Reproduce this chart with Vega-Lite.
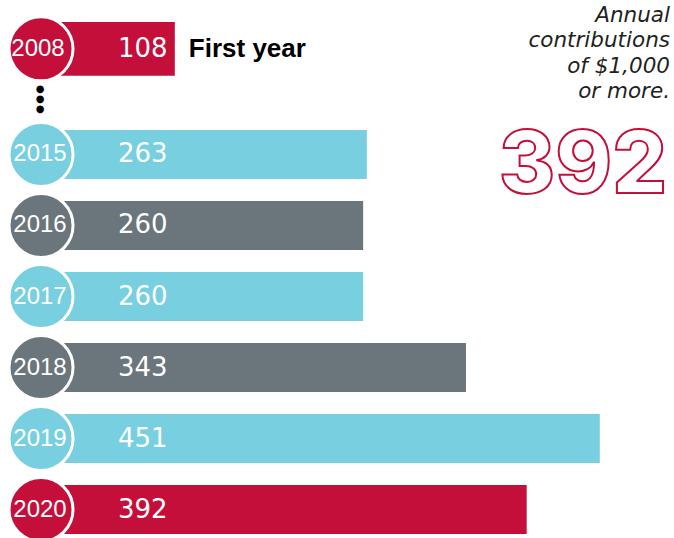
{
  "$schema": "https://vega.github.io/schema/vega-lite/v6.json",
  "padding": 0,
  "spacing": 0,
  "bounds": "flush",
  "background": "white",
  "config": {"view": {"stroke": null}},
  "datasets": {
    "rows": [
      {"year": "2008", "value": 108},
      {"year": "2015", "value": 263},
      {"year": "2016", "value": 260},
      {"year": "2017", "value": 260},
      {"year": "2018", "value": 343},
      {"year": "2019", "value": 451},
      {"year": "2020", "value": 392}
    ]
  },
  "vconcat": [
    {
      "width": 674,
      "height": 118,
      "data": {"name": "rows"},
      "transform": [{"filter": "datum.year == '2008'"}],
      "encoding": {
        "y": {"field": "year", "type": "nominal", "axis": null,
              "scale": {"domain": ["2008"], "paddingInner": 0, "paddingOuter": 0.6, "align": 0.342}}
      },
      "layer": [
        {
          "mark": {"type": "bar"},
          "encoding": {
            "x": {"field": "value", "type": "quantitative", "axis": null,
                  "scale": {"domain": [-33.1, 510.9], "nice": false, "zero": false}},
            "color": {"field": "year", "type": "nominal", "legend": null,
                      "scale": {"domain": ["2008","2015","2016","2017","2018","2019","2020"],
                                "range": ["#C40F3A","#78CFDF","#6A757C","#78CFDF","#6A757C","#78CFDF","#C40F3A"]}}
          }
        },
        {
          "mark": {"type": "circle", "size": 4100, "opacity": 1, "stroke": "white", "strokeWidth": 3},
          "encoding": {
            "x": {"datum": 0, "type": "quantitative"},
            "color": {"field": "year", "type": "nominal", "legend": null}
          }
        },
        {
          "mark": {"type": "text", "align": "center", "baseline": "middle", "dx": -3, "font": "Liberation Sans", "fontSize": 24, "fill": "white"},
          "encoding": {
            "x": {"datum": 0, "type": "quantitative"},
            "text": {"field": "year"}
          }
        },
        {
          "mark": {"type": "text", "align": "left", "baseline": "middle", "dx": 77, "font": "DejaVu Sans", "fontSize": 26, "fill": "white"},
          "encoding": {
            "x": {"datum": 0, "type": "quantitative"},
            "text": {"field": "value"}
          }
        },
        {
          "mark": {"type": "text", "align": "left", "baseline": "middle", "dx": 14, "font": "Liberation Sans", "fontWeight": "bold", "fontSize": 26, "fill": "black", "text": "First year"},
          "encoding": {
            "x": {"field": "value", "type": "quantitative"}
          }
        },
        {
          "mark": {"type": "text", "align": "center", "baseline": "middle", "dy": 40.5, "dx": -1, "font": "DejaVu Sans", "fontSize": 10, "lineHeight": 9.7, "fill": "black", "text": ["●", "●", "●"]},
          "encoding": {
            "x": {"datum": 0, "type": "quantitative"}
          }
        },
        {
          "mark": {"type": "text", "align": "right", "baseline": "alphabetic", "dx": -4, "dy": -26.8, "font": "DejaVu Sans", "fontStyle": "italic", "fontWeight": 300, "fontSize": 21.5, "lineHeight": 25.4, "fill": "#231F20",
                   "text": ["Annual", "contributions", "of $1,000", "or more."]},
          "encoding": {
            "x": {"value": "width"}
          }
        }
      ]
    },
    {
      "width": 674,
      "height": 420,
      "data": {"name": "rows"},
      "transform": [{"filter": "datum.year != '2008'"}],
      "encoding": {
        "y": {"field": "year", "type": "nominal", "axis": null,
              "scale": {"domain": ["2015","2016","2017","2018","2019","2020"], "paddingInner": 0.31, "paddingOuter": 0.1127, "align": 0.75}}
      },
      "layer": [
        {
          "mark": {"type": "bar"},
          "encoding": {
            "x": {"field": "value", "type": "quantitative", "axis": null,
                  "scale": {"domain": [-33.1, 510.9], "nice": false, "zero": false}},
            "color": {"field": "year", "type": "nominal", "legend": null}
          }
        },
        {
          "mark": {"type": "circle", "size": 4100, "opacity": 1, "stroke": "white", "strokeWidth": 3, "clip": true},
          "encoding": {
            "x": {"datum": 0, "type": "quantitative"},
            "color": {"field": "year", "type": "nominal", "legend": null}
          }
        },
        {
          "mark": {"type": "text", "align": "center", "baseline": "middle", "dx": -1, "font": "Liberation Sans", "fontSize": 24, "fill": "white"},
          "encoding": {
            "x": {"datum": 0, "type": "quantitative"},
            "text": {"field": "year"}
          }
        },
        {
          "mark": {"type": "text", "align": "left", "baseline": "middle", "dx": 77, "font": "DejaVu Sans", "fontSize": 26, "fill": "white"},
          "encoding": {
            "x": {"datum": 0, "type": "quantitative"},
            "text": {"field": "value"}
          }
        },
        {
          "transform": [{"filter": "datum.year == '2020'"}],
          "mark": {"type": "text", "align": "right", "baseline": "alphabetic", "dx": -7, "dy": 38.5, "font": "Inter", "fontWeight": 800, "fontSize": 86, "fill": "white", "stroke": "#C40F3A", "strokeWidth": 2},
          "encoding": {
            "x": {"value": "width"},
            "y": {"datum": "2015", "type": "nominal"},
            "text": {"field": "value"}
          }
        }
      ]
    }
  ]
}
